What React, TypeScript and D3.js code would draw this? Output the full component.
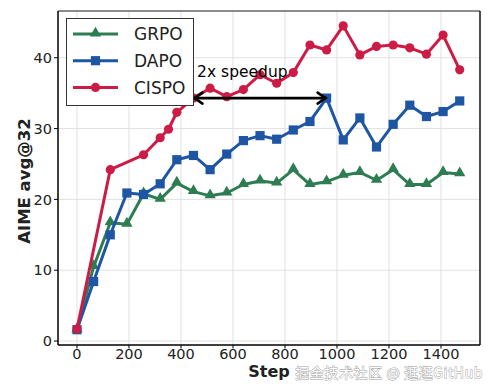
import React, { useEffect, useRef } from 'react';
import * as d3 from 'd3';

// 데이터
const steps = [0, 64, 128, 192, 256, 320, 384, 448, 512, 576, 640, 704, 768, 832, 896, 960, 1024, 1088, 1152, 1216, 1280, 1344, 1408, 1472];
const grpoValues = [1.6, 10.5, 16.7, 16.5, 20.8, 20.0, 22.3, 21.1, 20.5, 20.9, 22.1, 22.6, 22.3, 24.2, 22.1, 22.5, 23.4, 23.8, 22.7, 24.2, 22.1, 22.1, 23.8, 23.6];
const dapoValues = [1.6, 8.4, 15.0, 20.9, 20.7, 22.2, 25.6, 26.2, 24.2, 26.4, 28.3, 29.0, 28.5, 29.8, 31.0, 34.3, 28.4, 31.5, 27.4, 30.6, 33.3, 31.7, 32.4, 33.9];
const cispoSteps = [0, 128, 256, 320, 352, 384, 448, 512, 576, 640, 704, 768, 832, 896, 960, 1024, 1088, 1152, 1216, 1280, 1344, 1408, 1472];
const cispoValues = [1.7, 24.2, 26.3, 28.7, 29.9, 32.3, 34.3, 35.7, 34.5, 35.5, 37.6, 36.4, 37.9, 41.8, 41.1, 44.5, 40.4, 41.6, 41.8, 41.4, 40.5, 43.2, 38.3];

const xTicks = [0, 200, 400, 600, 800, 1000, 1200, 1400];
const yTicks = [0, 10, 20, 30, 40];

// 2x speedup 화살표 (step 구간, 값)
const speedupFrom = 448;
const speedupTo = 960;
const speedupValue = 34.3;

const W = 496;
const H = 389;
const FONT = "'DejaVu Sans', sans-serif";

type Series = { name: string; color: string; marker: 'triangle' | 'square' | 'circle'; xs: number[]; ys: number[] };

const series: Series[] = [
  { name: 'GRPO', color: '#2E7D52', marker: 'triangle', xs: steps, ys: grpoValues },
  { name: 'DAPO', color: '#1F56A3', marker: 'square', xs: steps, ys: dapoValues },
  { name: 'CISPO', color: '#CC1C45', marker: 'circle', xs: cispoSteps, ys: cispoValues },
];

const drawMarker = (g: d3.Selection<SVGGElement, unknown, null, undefined>, kind: string, cx: number, cy: number, color: string) => {
  if (kind === 'circle') {
    g.append('circle').attr('cx', cx).attr('cy', cy).attr('r', 4.6).attr('fill', color);
  } else if (kind === 'square') {
    g.append('rect').attr('x', cx - 4.6).attr('y', cy - 4.6).attr('width', 9.2).attr('height', 9.2).attr('fill', color);
  } else {
    const sym = d3.symbol().type(d3.symbolTriangle).size(55);
    g.append('path').attr('d', sym()!).attr('transform', `translate(${cx},${cy - 0.8})`).attr('fill', color);
  }
};

const Chart: React.FC = () => {
  const ref = useRef<SVGSVGElement>(null);

  useEffect(() => {
    if (!ref.current) return;
    const svg = d3.select(ref.current);
    svg.selectAll('*').remove();

    const left = 58;
    const right = 480;
    const top = 11;
    const bottom = 345;

    const x = d3.scaleLinear().domain([-73, 1550]).range([left, right]);
    const y = d3.scaleLinear().domain([-0.56, 46.6]).range([bottom, top]);

    svg.append('rect').attr('width', W).attr('height', H).attr('fill', '#fff');

    // 그리드
    const grid = svg.append('g');
    xTicks.forEach((t) => {
      grid.append('line').attr('x1', x(t)).attr('x2', x(t)).attr('y1', top).attr('y2', bottom).attr('stroke', '#dedede').attr('stroke-width', 0.9);
    });
    yTicks.forEach((t) => {
      grid.append('line').attr('x1', left).attr('x2', right).attr('y1', y(t)).attr('y2', y(t)).attr('stroke', '#dedede').attr('stroke-width', 0.9);
    });

    // 축 눈금과 라벨
    const axes = svg.append('g');
    xTicks.forEach((t) => {
      axes.append('line').attr('x1', x(t)).attr('x2', x(t)).attr('y1', bottom).attr('y2', bottom + 3.5).attr('stroke', '#000').attr('stroke-width', 1);
      axes
        .append('text')
        .attr('x', x(t))
        .attr('y', 358.5)
        .attr('text-anchor', 'middle')
        .attr('font-family', FONT)
        .attr('font-size', 14.5)
        .attr('fill', '#222')
        .text(t);
    });
    yTicks.forEach((t) => {
      axes.append('line').attr('x1', left - 4).attr('x2', left).attr('y1', y(t)).attr('y2', y(t)).attr('stroke', '#000').attr('stroke-width', 1);
      axes
        .append('text')
        .attr('x', left - 6)
        .attr('y', y(t))
        .attr('dy', '0.36em')
        .attr('text-anchor', 'end')
        .attr('font-family', FONT)
        .attr('font-size', 14.5)
        .attr('fill', '#222')
        .text(t);
    });

    // 시리즈
    series.forEach((s) => {
      const g = svg.append('g');
      const pts = s.xs.map((v, i) => [x(v), y(s.ys[i])] as [number, number]);
      g.append('path')
        .attr('d', d3.line()(pts)!)
        .attr('fill', 'none')
        .attr('stroke', s.color)
        .attr('stroke-width', 3)
        .attr('stroke-linejoin', 'round');
      pts.forEach(([px, py]) => drawMarker(g, s.marker, px, py, s.color));
    });

    // 2x speedup 화살표
    const ay = y(speedupValue);
    const ax1 = x(speedupFrom);
    const ax2 = x(speedupTo);
    const arrow = svg.append('g').attr('stroke', '#000').attr('stroke-width', 2.6).attr('fill', 'none').attr('stroke-linecap', 'round');
    arrow.append('line').attr('x1', ax1 + 1).attr('x2', ax2 - 1).attr('y1', ay).attr('y2', ay);
    arrow.append('path').attr('d', `M${ax1 + 9},${ay - 5.5} L${ax1 + 1},${ay} L${ax1 + 9},${ay + 5.5}`);
    arrow.append('path').attr('d', `M${ax2 - 9},${ay - 5.5} L${ax2 - 1},${ay} L${ax2 - 9},${ay + 5.5}`);
    svg
      .append('text')
      .attr('x', x(462))
      .attr('y', 77)
      .attr('font-family', FONT)
      .attr('font-size', 15.5)
      .attr('fill', '#000')
      .text('2x speedup');

    // 범례
    const legend = svg.append('g');
    legend.append('rect').attr('x', 66.5).attr('y', 18.5).attr('width', 127).attr('height', 87).attr('fill', '#fff').attr('stroke', '#333').attr('stroke-width', 1);
    series.forEach((s, i) => {
      const ly = 34 + i * 26.7;
      legend.append('line').attr('x1', 73).attr('x2', 118).attr('y1', ly).attr('y2', ly).attr('stroke', s.color).attr('stroke-width', 3);
      drawMarker(legend, s.marker, 95.5, ly, s.color);
      legend
        .append('text')
        .attr('x', 134)
        .attr('y', ly)
        .attr('dy', '0.36em')
        .attr('font-family', FONT)
        .attr('font-size', 17)
        .attr('fill', '#222')
        .text(s.name);
    });

    // 테두리
    const frame = svg.append('g').attr('stroke-width', 1.5);
    frame.append('line').attr('x1', left).attr('x2', right).attr('y1', top).attr('y2', top).attr('stroke', '#666');
    frame.append('line').attr('x1', right).attr('x2', right).attr('y1', top).attr('y2', bottom).attr('stroke', '#111');
    frame.append('line').attr('x1', left).attr('x2', right).attr('y1', bottom).attr('y2', bottom).attr('stroke', '#000');
    frame.append('line').attr('x1', left).attr('x2', left).attr('y1', top).attr('y2', bottom).attr('stroke', '#000');

    // 축 제목
    svg
      .append('text')
      .attr('x', (left + right) / 2)
      .attr('y', 377)
      .attr('text-anchor', 'middle')
      .attr('font-family', FONT)
      .attr('font-weight', 'bold')
      .attr('font-size', 16)
      .attr('fill', '#222')
      .text('Step');
    svg
      .append('text')
      .attr('transform', `translate(30,${(top + bottom) / 2 + 3}) rotate(-90)`)
      .attr('text-anchor', 'middle')
      .attr('font-family', FONT)
      .attr('font-weight', 'bold')
      .attr('font-size', 16.5)
      .attr('fill', '#222')
      .text('AIME avg@32');

    // 워터마크
    svg
      .append('text')
      .attr('x', 483)
      .attr('y', 378)
      .attr('text-anchor', 'end')
      .attr('font-family', "'Noto Sans CJK SC', sans-serif")
      .attr('font-size', 14)
      .attr('letter-spacing', 0.6)
      .attr('fill', '#fff')
      .attr('stroke', '#a0a0a0')
      .attr('stroke-width', 0.9)
      .attr('paint-order', 'stroke')
      .text('掘金技术社区 @ 逛逛GitHub');
  }, []);

  return <svg ref={ref} width={W} height={H} style={{ position: 'absolute', left: 0, top: 0 }} />;
};

export default function App() {
  return <Chart />;
}
